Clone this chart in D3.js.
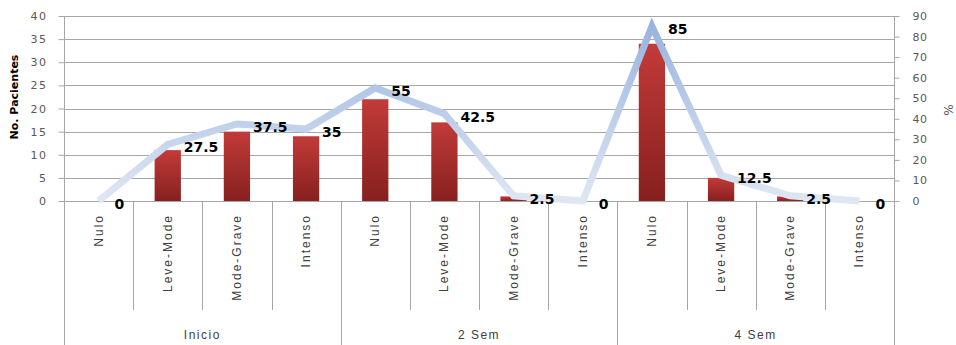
<!DOCTYPE html>
<html>
<head>
<meta charset="utf-8">
<script src="https://cdn.jsdelivr.net/npm/d3@7"></script>
<style>
  html, body { margin: 0; padding: 0; background: #fff; }
  svg { display: block; }
</style>
</head>
<body>
<svg id="chart" width="956" height="345"></svg>
<script>
// Patients by severity at each follow-up point
const groups = ["Inicio", "2 Sem", "4 Sem"];
const severities = ["Nulo", "Leve-Mode", "Mode-Grave", "Intenso"];
const patients = [0, 11, 15, 14, 22, 17, 1, 0, 34, 5, 1, 0];
const percent = [0, 27.5, 37.5, 35, 55, 42.5, 2.5, 0, 85, 12.5, 2.5, 0];
const leftTicks = [0, 5, 10, 15, 20, 25, 30, 35, 40];
const rightTicks = [0, 10, 20, 30, 40, 50, 60, 70, 80, 90];

const categories = [];
groups.forEach(g => severities.forEach(s => categories.push({ group: g, severity: s })));
const rows = categories.map((c, i) => ({ ...c, i, n: patients[i], pct: percent[i] }));

const svg = d3.select("#chart");
const plotLeft = 64, plotRight = 894, plotTop = 16, plotBottom = 201;

const x = d3.scaleBand().domain(d3.range(rows.length)).range([plotLeft, plotRight]).padding(0);
const xBar = d3.scaleBand().domain(d3.range(rows.length)).range([plotLeft, plotRight]).paddingInner(0.62).paddingOuter(0.31);
const y = d3.scaleLinear().domain([0, 40]).range([plotBottom, plotTop]);
const y2 = d3.scaleLinear().domain([0, 90]).range([plotBottom, plotTop]);

const grid = "#a6a6a6";
const axisText = "#595959";

const defs = svg.append("defs");
const barGrad = defs.append("linearGradient").attr("id", "barGrad")
  .attr("x1", 0).attr("y1", 0).attr("x2", 0).attr("y2", 1);
barGrad.append("stop").attr("offset", "0%").attr("stop-color", "#c23b39");
barGrad.append("stop").attr("offset", "100%").attr("stop-color", "#86201f");

const lineGrad = defs.append("linearGradient").attr("id", "lineGrad")
  .attr("gradientUnits", "userSpaceOnUse")
  .attr("x1", 0).attr("y1", plotTop).attr("x2", 0).attr("y2", plotBottom);
lineGrad.append("stop").attr("offset", "0%").attr("stop-color", "#95b1df");
lineGrad.append("stop").attr("offset", "100%").attr("stop-color", "#dfe7f3");

// horizontal gridlines
svg.append("g").selectAll("line").data(leftTicks).join("line")
  .attr("x1", plotLeft).attr("x2", plotRight)
  .attr("y1", d => Math.round(y(d)) + 0.5).attr("y2", d => Math.round(y(d)) + 0.5)
  .attr("stroke", grid).attr("stroke-width", 1);

// left axis
const gl = svg.append("g").attr("transform", `translate(${plotLeft + 0.5},0)`)
  .call(d3.axisLeft(y).tickValues(leftTicks).tickSize(6).tickPadding(11).tickFormat(d3.format("d")));
gl.select(".domain").attr("stroke", grid).attr("d", `M0,${plotTop}V345`);
gl.selectAll(".tick line").attr("stroke", grid);
gl.selectAll(".tick text").attr("fill", axisText)
  .style("font-family", "'DejaVu Sans', sans-serif").style("font-size", "11px").style("letter-spacing", "1.5px");

// right axis
const gr = svg.append("g").attr("transform", `translate(${plotRight + 0.5},0)`)
  .call(d3.axisRight(y2).tickValues(rightTicks).tickSize(5).tickPadding(13).tickFormat(d3.format("d")));
gr.select(".domain").attr("stroke", grid).attr("d", `M0,${plotTop}V345`);
gr.selectAll(".tick line").attr("stroke", grid);
gr.selectAll(".tick text").attr("fill", axisText)
  .style("font-family", "'DejaVu Sans', sans-serif").style("font-size", "11px").style("letter-spacing", "0.5px");

// category separators under the baseline
const seps = d3.range(1, rows.length);
svg.append("g").selectAll("line").data(seps).join("line")
  .attr("x1", d => Math.round(x(d)) + 0.5).attr("x2", d => Math.round(x(d)) + 0.5)
  .attr("y1", plotBottom).attr("y2", d => d % severities.length === 0 ? 345 : 310)
  .attr("stroke", grid);

// bars
svg.append("g").selectAll("rect").data(rows.filter(r => r.n > 0)).join("rect")
  .attr("x", d => xBar(d.i)).attr("width", xBar.bandwidth())
  .attr("y", d => y(d.n)).attr("height", d => y(0) - y(d.n))
  .attr("fill", "url(#barGrad)");

// baseline
svg.append("line").attr("x1", plotLeft).attr("x2", plotRight)
  .attr("y1", plotBottom + 0.5).attr("y2", plotBottom + 0.5).attr("stroke", grid);

// percentage line
const line = d3.line().x(d => x(d.i) + x.bandwidth() / 2).y(d => y2(d.pct));
svg.append("path").datum(rows).attr("d", line)
  .attr("fill", "none").attr("stroke", "url(#lineGrad)").attr("stroke-width", 7)
  .attr("stroke-linejoin", "miter");

// percentage value labels
svg.append("g").selectAll("text").data(rows).join("text")
  .attr("x", d => x(d.i) + x.bandwidth() / 2 + 16)
  .attr("y", d => y2(d.pct) + 8)
  .text(d => d.pct)
  .attr("fill", "#000")
  .style("font-family", "'DejaVu Sans', sans-serif").style("font-size", "14px").style("font-weight", "bold");

// severity labels (rotated)
svg.append("g").selectAll("text").data(rows).join("text")
  .attr("transform", d => `translate(${x(d.i) + x.bandwidth() / 2 + 4},214) rotate(-90)`)
  .attr("text-anchor", "end")
  .text(d => d.severity)
  .attr("fill", "#404040")
  .style("font-family", "'Liberation Sans', sans-serif").style("font-size", "12px").style("letter-spacing", "2px");

// group labels
svg.append("g").selectAll("text").data(groups).join("text")
  .attr("x", (g, k) => (x(k * 4) + x(k * 4 + 3) + x.bandwidth()) / 2)
  .attr("y", 339)
  .attr("text-anchor", "middle")
  .text(g => g)
  .attr("fill", "#404040")
  .style("font-family", "'Liberation Sans', sans-serif").style("font-size", "12px").style("letter-spacing", "1.5px");

// axis titles
svg.append("text").attr("transform", "translate(18,97) rotate(-90)")
  .attr("text-anchor", "middle").text("No. Pacientes")
  .attr("fill", "#000")
  .style("font-family", "'DejaVu Sans', sans-serif").style("font-size", "11px").style("font-weight", "bold");
svg.append("text").attr("transform", "translate(944,110) rotate(90)")
  .attr("text-anchor", "middle").text("%")
  .attr("fill", axisText)
  .style("font-family", "'DejaVu Sans', sans-serif").style("font-size", "12px");
</script>
</body>
</html>
